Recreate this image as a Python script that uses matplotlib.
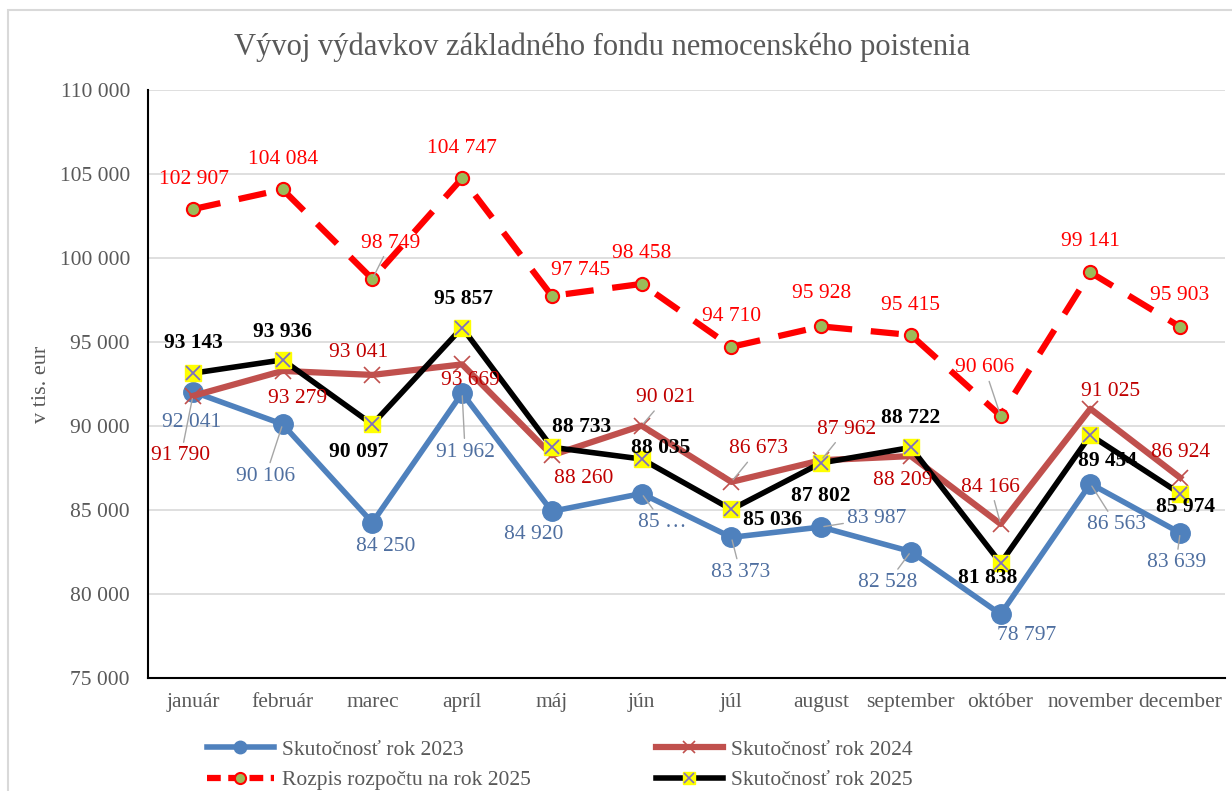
import matplotlib.pyplot as plt
from matplotlib.patches import Rectangle
from matplotlib.ticker import FuncFormatter
from matplotlib.legend_handler import HandlerTuple

plt.rcParams['font.family'] = ['Liberation Serif', 'DejaVu Serif']

months = ["január", "február", "marec", "apríl", "máj", "jún", "júl",
          "august", "september", "október", "november", "december"]

fact_2023 = [92041, 90106, 84250, 91962, 84920, 85980, 83373, 83987, 82528, 78797, 86563, 83639]
fact_2024 = [91790, 93279, 93041, 93669, 88260, 90021, 86673, 87962, 88209, 84166, 91025, 86924]
budget_2025 = [102907, 104084, 98749, 104747, 97745, 98458, 94710, 95928, 95415, 90606, 99141, 95903]
fact_2025 = [93143, 93936, 90097, 95857, 88733, 88035, 85036, 87802, 88722, 81838, 89454, 85974]

y_ticks = [75000, 80000, 85000, 90000, 95000, 100000, 105000, 110000]

title = "Vývoj výdavkov základného fondu nemocenského poistenia"
y_label = "v tis. eur"
names = ["Skutočnosť rok 2023", "Skutočnosť rok 2024",
         "Rozpis rozpočtu na rok 2025", "Skutočnosť rok 2025"]


def fmt(v):
    return f"{v:,}".replace(",", " ")


# label offsets in pixels (dx, dy), a third item means a leader line
off_budget = [(1, 30), (0, 30), (18, 36, True), (0, 30), (29, 25), (0, 30),
              (0, 30), (0, 33), (0, 30), (-16, 48, True), (0, 31), (0, 31)]
off_2023 = [(-1, -31), (-17, -52, True), (13, -24), (3, -59, True), (-18, -23), (21, -29, True),
            (9, -35, True), (56, 9, True), (-23, -31, True), (26, -21), (26, -41, True), (-4, -30, True)]
off_2024 = [(-12, -60, True), (15, -28), (-14, 22), (8, -16), (32, -23), (24, 28, True),
            (27, 33, True), (25, 31, True), (-8, -24), (-10, 37, True), (20, 17), (0, 25)]
off_2025 = [(0, 30), (0, 28), (-14, -28), (1, 29), (30, 20), (19, 11),
            (41, -11), (0, -33), (0, 29), (-13, -15), (17, -26), (5, -13)]

fs = 15.5

fig = plt.figure(figsize=(12.32, 7.91), dpi=100)
fig.patches.append(Rectangle((8 / 1232, -0.1), 1.2, 1 - 10 / 791 + 0.1,
                             transform=fig.transFigure, fill=False,
                             edgecolor="#D9D9D9", lw=1.5))
ax = fig.add_axes([148 / 1232, 1 - 678 / 791, (1225 - 148) / 1232, (678 - 90) / 791])

x = list(range(len(months)))

ax.plot(x, fact_2023, color="#4F81BD", lw=4, marker="o", ms=14, zorder=3)
ax.plot(x, fact_2024, color="#C0504D", lw=4.5, marker="x", ms=12, mew=1.2, zorder=4)
ax.plot(x, budget_2025, color="#FF0000", lw=4.5, ls=(0, (4.5, 3)), marker="o", ms=9.5,
        mfc="#9BBB59", mec="#FF0000", mew=1.5, zorder=3)
ax.plot(x, fact_2025, color="black", lw=4, marker="s", ms=11, mfc="#FFFF00",
        mec="#FFFF00", zorder=5)
ax.plot(x, fact_2025, ls="none", marker="x", ms=10, mec="#7F6FBF", mew=1.3, zorder=6)


def labels(values, offsets, color, bold=False, texts=None):
    for i, v in enumerate(values):
        o = offsets[i]
        lead = len(o) > 2
        txt = texts[i] if texts else fmt(v)
        ax.annotate(txt, (i, v), xytext=(o[0], o[1]), textcoords="offset pixels",
                    ha="center", va="center", fontsize=fs, color=color,
                    fontweight="bold" if bold else "normal", zorder=7,
                    arrowprops=dict(arrowstyle="-", color="#A6A6A6", lw=1,
                                    shrinkA=1, shrinkB=2) if lead else None)


labels(budget_2025, off_budget, "#FF0000")
t23 = [fmt(v) for v in fact_2023]
t23[5] = "85 …"
labels(fact_2023, off_2023, "#4F6FA0", texts=t23)
labels(fact_2024, off_2024, "#C00000")
labels(fact_2025, off_2025, "black", bold=True)

ax.set_xlim(-0.5, 11.5)
ax.set_ylim(75000, 110000)
ax.set_yticks(y_ticks)
ax.yaxis.set_major_formatter(FuncFormatter(lambda v, p: fmt(int(v))))
ax.set_xticks(x)
ax.set_xticklabels(months)
ax.tick_params(axis="both", length=0, labelsize=fs, colors="#595959")
ax.tick_params(axis="x", pad=11)
ax.tick_params(axis="y", pad=13)
ax.grid(axis="y", color="#D9D9D9", lw=1.2)
ax.set_axisbelow(True)
for s in ["top", "right"]:
    ax.spines[s].set_visible(False)
ax.spines["left"].set_linewidth(1.5)
ax.spines["bottom"].set_linewidth(1.5)

ax.set_ylabel(y_label, fontsize=16, color="#595959", labelpad=6)
fig.text(602 / 1232, 1 - 47 / 791, title, ha="center", va="center",
         fontsize=22, color="#595959")

# small copies of the lines for the legend
h23, = ax.plot([], [], color="#4F81BD", lw=4, marker="o", ms=9)
h24, = ax.plot([], [], color="#C0504D", lw=4.5, marker="x", ms=8, mew=1.2)
hbud, = ax.plot([], [], color="#FF0000", lw=4.5, ls=(0, (2.2, 1.2)), marker="o", ms=8,
                mfc="#9BBB59", mec="#FF0000", mew=1.5)
h25, = ax.plot([], [], color="black", lw=4, marker="s", ms=9, mfc="#FFFF00", mec="#FFFF00")
h25x, = ax.plot([], [], ls="none", marker="x", ms=7, mec="#7F6FBF", mew=1.2)

fig.legend([h23, hbud, h24, (h25, h25x)], [names[0], names[2], names[1], names[3]],
           handler_map={tuple: HandlerTuple(ndivide=1, pad=0)},
           loc="center", bbox_to_anchor=(560 / 1232, 1 - 765 / 791), ncol=2,
           frameon=False, fontsize=fs, handlelength=3.1, columnspacing=5.8,
           labelspacing=0.5, handletextpad=0.4, labelcolor="#595959")

plt.savefig("out.png", dpi=100)
